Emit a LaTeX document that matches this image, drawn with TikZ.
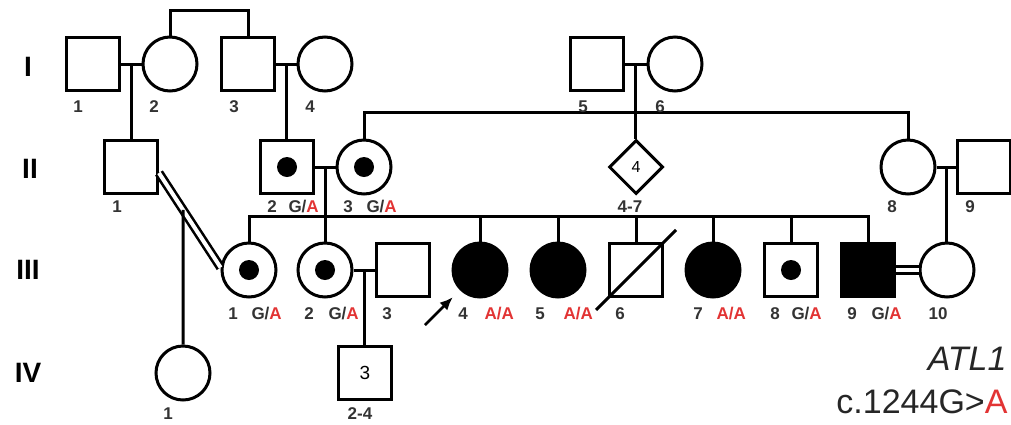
\documentclass[tikz,border=0pt]{standalone}
\usepackage{fontspec}
\setmainfont{Liberation Sans}
\usepackage{tikz}
\usetikzlibrary{shapes.geometric, arrows.meta}

\definecolor{allele}{RGB}{226,52,52}

\begin{document}
\begin{tikzpicture}[
    x=1pt, y=-1pt, line width=3pt,
    male/.style={draw, rectangle, minimum size=53pt, inner sep=0pt},
    female/.style={draw, circle, minimum size=54pt, inner sep=0pt},
    unknown/.style={draw, diamond, minimum size=54pt, inner sep=0pt, font=\fontsize{16}{16}\selectfont},
    affected/.style={fill=black},
    carrier/.style={path picture={\fill (path picture bounding box.center) circle (10pt);}},
    num/.style={anchor=base, inner sep=0pt, font=\fontsize{17}{17}\selectfont\bfseries, text=black!80},
    gt/.style={anchor=base west, inner sep=0pt, font=\fontsize{17}{17}\selectfont\bfseries, text=black!80},
    gen/.style={inner sep=0pt, font=\fontsize{28}{28}\selectfont\bfseries},
    arrow/.style={-{Latex[length=13pt, width=11pt]}, line width=2.6pt},
    consang/.style={double, double distance=4pt, line width=2.6pt}
]
    \useasboundingbox (0,0) rectangle (1011,424);

    % generation numerals
    \node[gen] (genI) at (28,67) {I};
    \node[gen] (genII) at (30,169) {II};
    \node[gen] (genIII) at (28,270) {III};
    \node[gen] (genIV) at (28,373) {IV};

    % generation I
    \node[male] (i1) at (93,64) {};
    \node[female] (i2) at (170,64) {};
    \node[male] (i3) at (248,64) {};
    \node[female] (i4) at (325,64) {};
    \node[male] (i5) at (597,64) {};
    \node[female] (i6) at (675,64) {};

    % generation II
    \node[male] (ii1) at (131,167) {};
    \node[male, carrier] (ii2) at (287,167) {};
    \node[female, carrier] (ii3) at (364,167) {};
    \node[unknown] (ii4) at (636,167) {4};
    \node[female] (ii8) at (908,167) {};
    \node[male] (ii9) at (984,167) {};

    % generation III
    \node[female, carrier] (iii1) at (249,270) {};
    \node[female, carrier] (iii2) at (325,270) {};
    \node[male] (iii3) at (403,270) {};
    \node[female, affected] (iii4) at (480,270) {};
    \node[female, affected] (iii5) at (558,270) {};
    \node[male] (iii6) at (636,270) {};
    \node[female, affected] (iii7) at (713,270) {};
    \node[male, carrier] (iii8) at (791,270) {};
    \node[male, affected] (iii9) at (868,270) {};
    \node[female] (iii10) at (947,270) {};

    % generation IV
    \node[female] (iv1) at (183,373) {};
    \node[male, font=\fontsize{19}{19}\selectfont] (iv3) at (365,373) {3};

    % marriages and descent
    \draw (i1) -- coordinate (m1) (i2);
    \draw (i3) -- coordinate (m2) (i4);
    \draw (i5) -- coordinate (m3) (i6);
    \draw (ii2) -- coordinate (m4) (ii3);
    \draw (ii8) -- coordinate (m5) (ii9);
    \draw (iii2) -- coordinate (m6) (iii3);
    \draw (m1) -- (m1 |- ii1.north);
    \draw (m2) -- (m2 |- ii2.north);
    \draw (m3) -- (m3 |- ii4.north);
    \draw (m4) -- (m4 |- iii2.north);
    \draw (m5) -- (m5 |- iii10.north);
    \draw (m6) -- (m6 |- iv3.north);
    \draw[consang] (ii1.-12) -- (iii1.175);
    \draw[consang] (iii9) -- (iii10);
    \draw (iv1.north) -- (intersection of iv1.north--iv1.center and ii1.-12--iii1.175);

    % sibships
    \draw (i2.north) -- ++(0,-25) -| (i3.north);
    \draw (ii3.north) -- ++(0,-26) -| (ii8.north);
    \draw (iii1.north) -- ++(0,-25) -| (iii9.north);
    \draw (iii4.north) -- ++(0,-25);
    \draw (iii5.north) -- ++(0,-25);
    \draw (iii6.north) -- ++(0,-25);
    \draw (iii7.north) -- ++(0,-25);
    \draw (iii8.north) -- ++(0,-25);

    % deceased, proband
    \draw (iii6.center) ++(-40,40) -- ++(80,-80);
    \coordinate (proband) at (425,325);
    \draw[arrow, shorten >=10pt] (proband) -- (iii4.225);

    % labels
    \node[num] (i1n) at (78,112) {1};
    \node[num] (i2n) at (154,112) {2};
    \node[num] (i3n) at (234,112) {3};
    \node[num] (i4n) at (310,112) {4};
    \node[num] (i5n) at (583,112) {5};
    \node[num] (i6n) at (660,112) {6};

    \node[num] (ii1n) at (117,212) {1};
    \node[num] (ii2n) at (272,212) {2};
    \node[gt] (ii2g) at (287,212) {G/\textcolor{allele}{A}};
    \node[num] (ii3n) at (348,212) {3};
    \node[gt] (ii3g) at (365,212) {G/\textcolor{allele}{A}};
    \node[num] (ii4n) at (630,212) {4-7};
    \node[num] (ii8n) at (892,212) {8};
    \node[num] (ii9n) at (970,212) {9};

    \node[num] (iii1n) at (233,319) {1};
    \node[gt] (iii1g) at (250,319) {G/\textcolor{allele}{A}};
    \node[num] (iii2n) at (309,319) {2};
    \node[gt] (iii2g) at (327,319) {G/\textcolor{allele}{A}};
    \node[num] (iii3n) at (387,319) {3};
    \node[num] (iii4n) at (463,319) {4};
    \node[gt, text=allele] (iii4g) at (483,319) {A/A};
    \node[num] (iii5n) at (540,319) {5};
    \node[gt, text=allele] (iii5g) at (562,319) {A/A};
    \node[num] (iii6n) at (620,319) {6};
    \node[num] (iii7n) at (698,319) {7};
    \node[gt, text=allele] (iii7g) at (715,319) {A/A};
    \node[num] (iii8n) at (775,319) {8};
    \node[gt] (iii8g) at (790,319) {G/\textcolor{allele}{A}};
    \node[num] (iii9n) at (852,319) {9};
    \node[gt] (iii9g) at (870,319) {G/\textcolor{allele}{A}};
    \node[num] (iii10n) at (938,319) {10};

    \node[num] (iv1n) at (168,419) {1};
    \node[num] (iv3n) at (360,419) {2-4};

    % gene and variant
    \node[anchor=base east, inner sep=0pt, font=\fontsize{34}{34}\selectfont\itshape, text=black!85] (gene) at (1008,370) {ATL1};
    \node[anchor=base east, inner sep=0pt, font=\fontsize{34}{34}\selectfont, text=black!85] (variant) at (1009,413) {c.1244G>\textcolor{allele}{A}};
\end{tikzpicture}
\end{document}
